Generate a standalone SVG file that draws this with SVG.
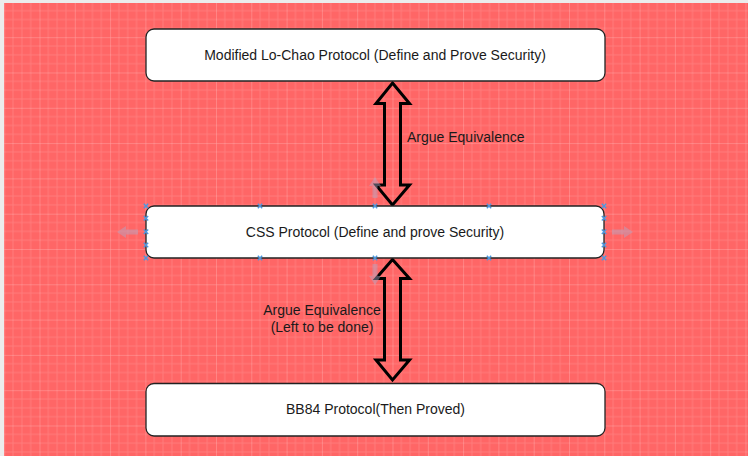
<svg xmlns="http://www.w3.org/2000/svg" width="748" height="456" viewBox="0 0 748 456">
  <style>
    .box { fill: #ffffff; stroke: #222222; stroke-width: 1.3; }
    .lbl { font-family: "Liberation Sans", Arial, sans-serif; font-size: 14px; fill: #1a1a1a; }
    .dbl { fill: none; stroke: #000000; stroke-width: 3; stroke-linejoin: miter; }
    .hx { stroke: #4a98e0; stroke-width: 1.4; fill: none; }
    .ghost { fill: #b0a8c8; opacity: 0.45; }
  </style>
  <defs>
    <pattern id="grid" patternUnits="userSpaceOnUse" x="4.2" y="1.9" width="35.3" height="35.3">
      <path d="M8.825 0V35.3M17.65 0V35.3M26.475 0V35.3M0 8.825H35.3M0 17.65H35.3M0 26.475H35.3" stroke="#ffffff" stroke-opacity="0.14" stroke-width="1" fill="none"/>
      <path d="M0 0V35.3M0 0H35.3" stroke="#ffffff" stroke-opacity="0.38" stroke-width="1" fill="none"/>
    </pattern>
    <symbol id="hx" viewBox="-3 -3 6 6" overflow="visible">
      <path d="M-2.2 -2.2L2.2 2.2M-2.2 2.2L2.2 -2.2"/>
    </symbol>
  </defs>

  <rect x="0" y="0" width="748" height="456" fill="#ececec"/>
  <rect x="4" y="3" width="744" height="453" fill="#ff6666"/>
  <rect x="4" y="3" width="744" height="453" fill="url(#grid)"/>

  <g id="connectors">
    <polygon class="dbl" points="392.5,83 409.5,103.5 400.5,103.5 400.5,185 409.5,185 392.5,205 376,185 384.5,185 384.5,103.5 376,103.5"/>
    <polygon class="dbl" points="392.5,259.5 409.5,278.5 400.5,278.5 400.5,360 409.5,360 392.5,380 376,360 384.5,360 384.5,278.5 376,278.5"/>
    <text class="lbl" x="407" y="142">Argue Equivalence</text>
    <text class="lbl" x="322" y="315" text-anchor="middle">Argue Equivalence</text>
    <text class="lbl" x="322" y="332" text-anchor="middle">(Left to be done)</text>
  </g>

  <g id="node-lochao">
    <rect class="box" x="146" y="29" width="459" height="52" rx="8" ry="8"/>
    <text class="lbl" x="375" y="60" text-anchor="middle">Modified Lo-Chao Protocol (Define and Prove Security)</text>
  </g>

  <g id="node-css">
    <rect class="box" x="146" y="206" width="458" height="52" rx="8" ry="8"/>
    <text class="lbl" x="375" y="237" text-anchor="middle">CSS Protocol (Define and prove Security)</text>
  </g>

  <g id="node-bb84">
    <rect class="box" x="146" y="383.5" width="459" height="52.5" rx="8" ry="8"/>
    <text class="lbl" x="375.5" y="414" text-anchor="middle">BB84 Protocol(Then Proved)</text>
  </g>

  <g id="selection">
    <polygon class="ghost" points="117,232 126,226 126,229.5 138,229.5 138,234.5 126,234.5 126,238"/>
    <polygon class="ghost" points="633,232 624,226 624,229.5 612,229.5 612,234.5 624,234.5 624,238"/>
    <polygon class="ghost" points="375,177 369,186 372.5,186 372.5,198 377.5,198 377.5,186 381,186"/>
    <polygon class="ghost" points="375,285 369,276 372.5,276 372.5,264 377.5,264 377.5,276 381,276"/>
    <g class="hx">
      <use href="#hx" x="143" y="203" width="6" height="6"/>
      <use href="#hx" x="257" y="203" width="6" height="6"/>
      <use href="#hx" x="372" y="203" width="6" height="6"/>
      <use href="#hx" x="486" y="203" width="6" height="6"/>
      <use href="#hx" x="601" y="203" width="6" height="6"/>
      <use href="#hx" x="143" y="255" width="6" height="6"/>
      <use href="#hx" x="257" y="255" width="6" height="6"/>
      <use href="#hx" x="372" y="255" width="6" height="6"/>
      <use href="#hx" x="486" y="255" width="6" height="6"/>
      <use href="#hx" x="601" y="255" width="6" height="6"/>
      <use href="#hx" x="143" y="215.3" width="6" height="6"/>
      <use href="#hx" x="143" y="228.7" width="6" height="6"/>
      <use href="#hx" x="143" y="242" width="6" height="6"/>
      <use href="#hx" x="601" y="215.3" width="6" height="6"/>
      <use href="#hx" x="601" y="228.7" width="6" height="6"/>
      <use href="#hx" x="601" y="242" width="6" height="6"/>
    </g>
  </g>
</svg>
